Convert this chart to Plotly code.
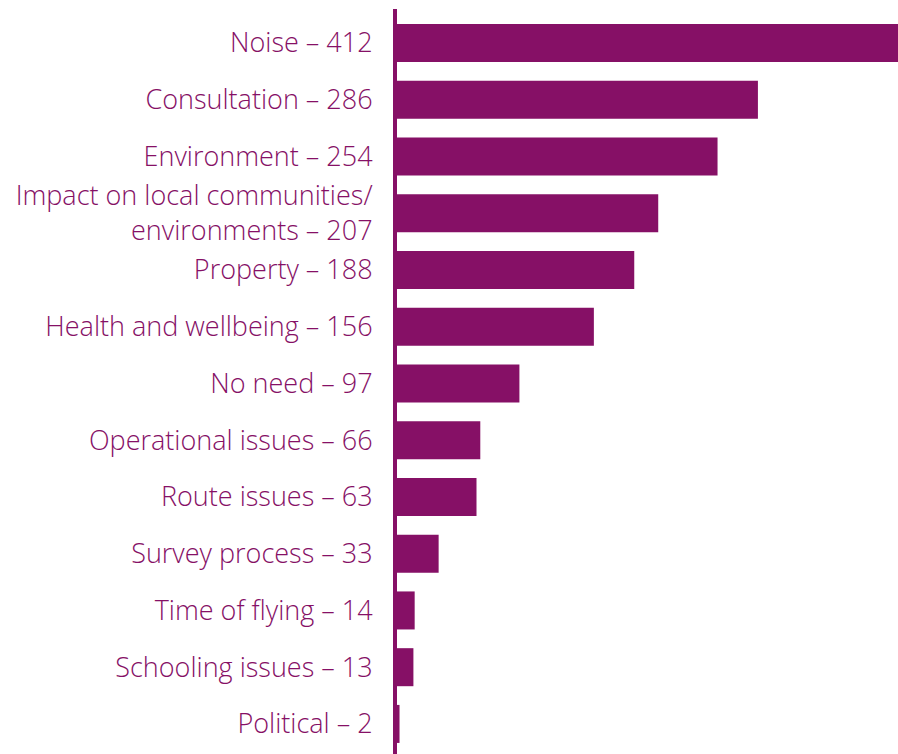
import plotly.graph_objects as go

categories = ["Noise", "Consultation", "Environment",
              "Impact on local communities/<br>environments", "Property",
              "Health and wellbeing", "No need", "Operational issues",
              "Route issues", "Survey process", "Time of flying",
              "Schooling issues", "Political"]
values = [412, 286, 254, 207, 188, 156, 97, 66, 63, 33, 14, 13, 2]

labels = [f"{c} – {v}" for c, v in zip(categories, values)]

PURPLE = "#861066"

fig = go.Figure(go.Bar(
    x=values, y=labels, orientation="h",
    marker=dict(color=PURPLE, line=dict(width=0)),
    width=0.67, hoverinfo="skip",
))

fig.update_layout(
    width=898, height=754,
    margin=dict(l=397, r=0, t=9, b=0, pad=0),
    paper_bgcolor="white", plot_bgcolor="white",
    showlegend=False,
    font=dict(family="Open Sans", color=PURPLE, size=27, weight=300),
    xaxis=dict(range=[0, 397], visible=False, fixedrange=True),
    yaxis=dict(
        type="category", categoryorder="array", categoryarray=labels,
        range=[12.53, -0.6], showline=True, linewidth=4, linecolor=PURPLE,
        showgrid=False, zeroline=False, ticks="", ticklabelstandoff=15,
        tickfont=dict(family="Open Sans", size=27, color=PURPLE, weight=300),
        fixedrange=True,
    ),
)

fig.write_html(
    "out.html",
    config={"displayModeBar": False, "staticPlot": True},
    post_script="document.body.style.margin='0';document.body.style.overflow='hidden';",
)
